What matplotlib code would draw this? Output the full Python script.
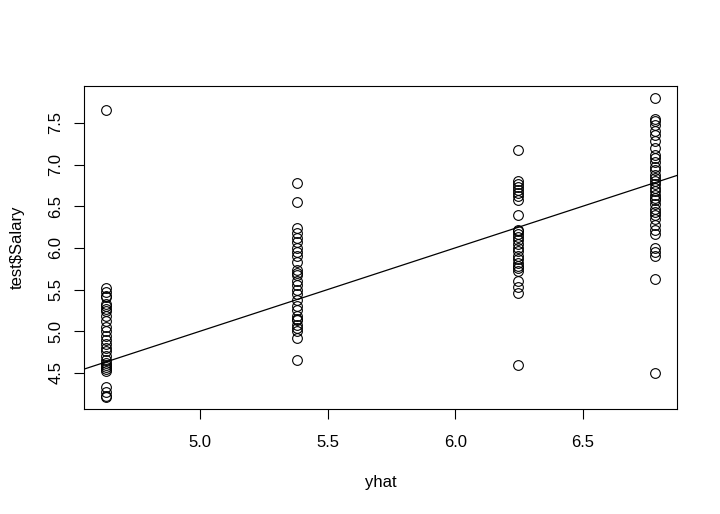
import numpy as np
import matplotlib.pyplot as plt

plt.rcParams['font.family'] = ['Liberation Sans', 'DejaVu Sans']

# predicted values (one per group) and observed log salaries
yhat_levels = [4.631, 5.381, 6.245, 6.783]

sal_1 = [7.66, 5.52, 5.47, 5.42, 5.41, 5.33, 5.30, 5.27, 5.24, 5.18, 5.12, 5.05,
         5.00, 4.94, 4.89, 4.85, 4.80, 4.76, 4.70, 4.65, 4.62, 4.60, 4.57, 4.55,
         4.52, 4.33, 4.27, 4.22, 4.21]
sal_2 = [6.78, 6.55, 6.24, 6.18, 6.12, 6.07, 6.00, 5.95, 5.90, 5.83, 5.73, 5.70,
         5.68, 5.60, 5.55, 5.50, 5.45, 5.38, 5.30, 5.25, 5.18, 5.15, 5.13, 5.08,
         5.04, 5.00, 4.92, 4.65]
sal_3 = [7.18, 6.80, 6.77, 6.73, 6.70, 6.66, 6.62, 6.58, 6.40, 6.22, 6.20, 6.17,
         6.13, 6.10, 6.05, 6.00, 5.96, 5.90, 5.87, 5.82, 5.78, 5.76, 5.72, 5.60,
         5.53, 5.46, 4.60]
sal_4 = [7.80, 7.55, 7.52, 7.48, 7.40, 7.35, 7.28, 7.20, 7.12, 7.08, 7.03, 6.97,
         6.93, 6.88, 6.84, 6.80, 6.77, 6.72, 6.68, 6.63, 6.60, 6.57, 6.53, 6.47,
         6.43, 6.40, 6.35, 6.28, 6.22, 6.17, 6.00, 5.95, 5.90, 5.63, 4.50]

groups = [sal_1, sal_2, sal_3, sal_4]
yhat = np.concatenate([[lv] * len(g) for lv, g in zip(yhat_levels, groups)])
salary = np.concatenate(groups)

xticks = [5.0, 5.5, 6.0, 6.5]
yticks = [4.5, 5.0, 5.5, 6.0, 6.5, 7.0, 7.5]

fig = plt.figure(figsize=(7.2, 5.14), dpi=100)
ax = fig.add_axes([0.1167, 0.2043, 0.8233, 0.6284])

ax.plot(yhat, salary, 'o', mfc='none', mec='black', ms=7, mew=0.8)
ax.axline((0, 0), slope=1, color='black', lw=0.9)

# R-style 4% padding
xr = max(yhat) - min(yhat)
yr = max(salary) - min(salary)
ax.set_xlim(min(yhat) - 0.04 * xr, max(yhat) + 0.04 * xr)
ax.set_ylim(min(salary) - 0.04 * yr, max(salary) + 0.04 * yr)

ax.set_xticks(xticks)
ax.set_yticks(yticks)
ax.set_xticklabels([f'{v:.1f}' for v in xticks])
ax.set_yticklabels([f'{v:.1f}' for v in yticks], rotation=90, va='center')
ax.tick_params(direction='out', length=7, width=0.8, labelsize=12)
ax.tick_params(axis='x', pad=12)
ax.tick_params(axis='y', pad=8)
for s in ax.spines.values():
    s.set_linewidth(0.8)

ax.set_xlabel('yhat', fontsize=12, labelpad=18)
ax.set_ylabel('test\\$Salary', fontsize=12, labelpad=17)

fig.savefig('out.png', dpi=100)
